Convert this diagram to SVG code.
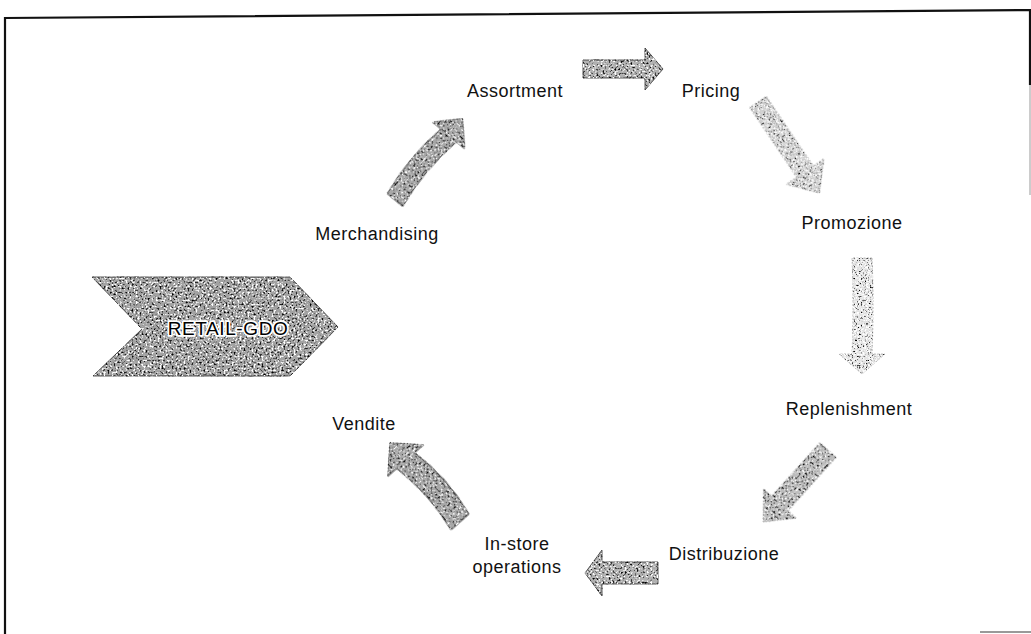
<svg xmlns="http://www.w3.org/2000/svg" width="1031" height="634" viewBox="0 0 1031 634">
  <style>
    .lbl { font-family: "Liberation Sans", Arial, sans-serif; font-size: 18px; letter-spacing: 0.5px; fill: #111; text-anchor: middle; }
    .arr { stroke: #222; stroke-width: 1; stroke-linejoin: round; stroke-opacity: 0.75; }
    .soft { stroke: #444; stroke-width: 0.8; stroke-opacity: 0.45; stroke-dasharray: 2 1.5; }
    .title { font-family: "Liberation Sans", Arial, sans-serif; font-size: 19px; letter-spacing: 0.6px; fill: #000; stroke: #fff; stroke-width: 3.5px; paint-order: stroke; stroke-linejoin: round; text-anchor: middle; }
  </style>
  <defs>
    <!-- speckled print texture: scattered black and white dots inside the shape -->
    <filter id="grain" x="-5%" y="-5%" width="110%" height="110%" color-interpolation-filters="sRGB">
      <feTurbulence type="fractalNoise" baseFrequency="0.5" numOctaves="2" seed="7" result="n"/>
      <feColorMatrix in="n" type="matrix" values="0 0 0 0 0  0 0 0 0 0  0 0 0 0 0  5 0 0 0 -2.75" result="blk"/>
      <feColorMatrix in="n" type="matrix" values="0 0 0 0 1  0 0 0 0 1  0 0 0 0 1  0 5 0 0 -2.5" result="wht"/>
      <feComposite in="blk" in2="SourceAlpha" operator="in" result="blkIn"/>
      <feComposite in="wht" in2="SourceAlpha" operator="in" result="whtIn"/>
      <feMerge>
        <feMergeNode in="SourceGraphic"/>
        <feMergeNode in="whtIn"/>
        <feMergeNode in="blkIn"/>
      </feMerge>
    </filter>
    <filter id="grainLight" x="-5%" y="-5%" width="110%" height="110%" color-interpolation-filters="sRGB">
      <feTurbulence type="fractalNoise" baseFrequency="0.55" numOctaves="2" seed="11" result="n"/>
      <feColorMatrix in="n" type="matrix" values="0 0 0 0 0  0 0 0 0 0  0 0 0 0 0  5 0 0 0 -2.95" result="blk"/>
      <feColorMatrix in="n" type="matrix" values="0 0 0 0 1  0 0 0 0 1  0 0 0 0 1  0 5 0 0 -2.3" result="wht"/>
      <feComposite in="blk" in2="SourceAlpha" operator="in" result="blkIn"/>
      <feComposite in="wht" in2="SourceAlpha" operator="in" result="whtIn"/>
      <feMerge>
        <feMergeNode in="SourceGraphic"/>
        <feMergeNode in="whtIn"/>
        <feMergeNode in="blkIn"/>
      </feMerge>
    </filter>
  </defs>

  <rect width="1031" height="634" fill="#fff"/>

  <!-- frame -->
  <g id="frame" fill="none">
    <polyline points="5,634 5,18 1030,10 1030,85" stroke="#111" stroke-width="2.2"/>
    <line x1="1030" y1="85" x2="1030" y2="195" stroke="#bbb" stroke-width="1.5"/>
    <line x1="980" y1="632" x2="1031" y2="632" stroke="#777" stroke-width="1.5"/>
  </g>

  <!-- central chevron -->
  <g id="retail-gdo">
    <polygon points="92,277 290,277 338,327 290,376 93,376 142,329" fill="#a2a2a2" class="arr" filter="url(#grain)"/>
    <text class="title" x="228" y="335">RETAIL-GDO</text>
  </g>

  <!-- cycle arrows -->
  <g id="connectors">
    <path class="arr" fill="#b0b0b0" filter="url(#grain)" transform="translate(583,69)"
          d="M0,-9 L62,-9 L62,-21 L80,0 L62,21 L62,9 L0,9 Z"/>
    <path class="arr soft" fill="#cdcdcd" filter="url(#grainLight)" transform="translate(758,102) rotate(56)"
          d="M0,-10 L84,-10 L84,-23 L110,0 L84,23 L84,10 L0,10 Z"/>
    <path class="arr soft" fill="#e2e2e2" filter="url(#grainLight)" transform="translate(862,258) rotate(90)"
          d="M0,-10 Q48,-12 96,-10 L96,-23 L116,0 L96,23 L96,10 Q48,8 0,10 Z"/>
    <path class="arr soft" fill="#bdbdbd" filter="url(#grain)" transform="translate(828,450) rotate(132)"
          d="M0,-11 L72,-11 L72,-22 L97,0 L72,22 L72,11 L0,11 Z"/>
    <path class="arr" fill="#b0b0b0" filter="url(#grain)" transform="translate(658,573) rotate(180)"
          d="M0,-11 L56,-11 L56,-23 L73,0 L56,23 L56,11 L0,11 Z"/>
    <path class="arr" fill="#a6a6a6" filter="url(#grain)" transform="translate(460,522) rotate(228.5)"
          d="M0,-12 Q41,-4 82,-12 L82,-24 L106,0 L82,24 L82,12 Q41,20 0,12 Z"/>
    <path class="arr" fill="#a6a6a6" filter="url(#grain)" transform="translate(395,200) rotate(-50.3)"
          d="M0,-10 Q42,-17 84,-10 L84,-21 L106,0 L84,21 L84,10 Q42,3 0,10 Z"/>
  </g>

  <!-- process steps -->
  <g id="assortment"><text class="lbl" x="515" y="97">Assortment</text></g>
  <g id="pricing"><text class="lbl" x="711" y="97">Pricing</text></g>
  <g id="promozione"><text class="lbl" x="852" y="229">Promozione</text></g>
  <g id="replenishment"><text class="lbl" x="849" y="415">Replenishment</text></g>
  <g id="distribuzione"><text class="lbl" x="724" y="560">Distribuzione</text></g>
  <g id="in-store-operations">
    <text class="lbl" x="517" y="550">In-store</text>
    <text class="lbl" x="517" y="573">operations</text>
  </g>
  <g id="vendite"><text class="lbl" x="364" y="430">Vendite</text></g>
  <g id="merchandising"><text class="lbl" x="377" y="240">Merchandising</text></g>
</svg>
